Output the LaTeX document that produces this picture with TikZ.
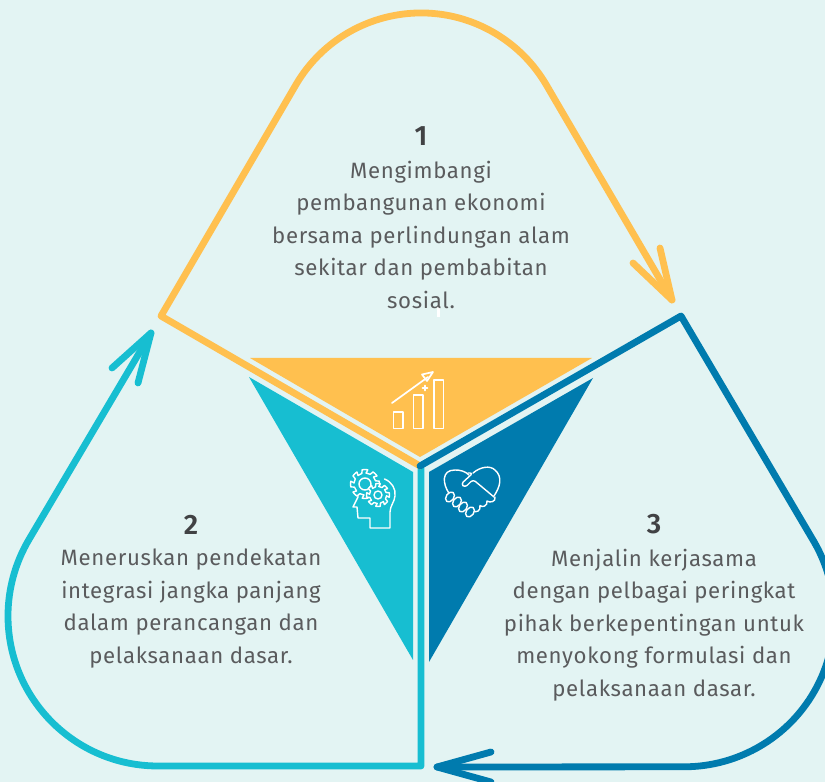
\documentclass[tikz,border=0pt]{standalone}
\usepackage{fontspec}
\setmainfont{Fira Sans}[LetterSpace=3]
\newfontfamily\numfont{Fira Sans SemiBold}
\definecolor{bgc}{HTML}{E3F4F3}
\definecolor{yel}{HTML}{FFC04F}
\definecolor{cya}{HTML}{17BED1}
\definecolor{blu}{HTML}{007BAE}
\definecolor{txt}{HTML}{5A5B5D}
\definecolor{numc}{HTML}{414244}
\tikzset{
 x=1pt,y=1pt,
 loop/.style={line width=6.8pt,line cap=round,line join=round},
 body/.style={inner sep=0pt,align=center,anchor=north,text=txt,font=\fontsize{22.2}{32.4}\selectfont},
 num/.style={inner sep=0pt,anchor=base,text=numc,font=\numfont\fontsize{28}{30}\selectfont},
 ico/.style={draw=white,line width=1.4pt,line join=round,line cap=round},
}
% cx cy outer inner teeth
\newcommand\gearicon[5]{%
 \draw[ico,fill=cya] ({#1+#3*cos(0)},{#2+#3*sin(0)})
  foreach \k in {1,...,#5}{
   -- ({#1+#3*cos((\k-1)*360/#5+90/#5)},{#2+#3*sin((\k-1)*360/#5+90/#5)})
   -- ({#1+#4*cos((\k-1)*360/#5+135/#5)},{#2+#4*sin((\k-1)*360/#5+135/#5)})
   -- ({#1+#4*cos((\k-1)*360/#5+315/#5)},{#2+#4*sin((\k-1)*360/#5+315/#5)})
   -- ({#1+#3*cos((\k-1)*360/#5+270/#5)},{#2+#3*sin((\k-1)*360/#5+270/#5)})
   -- ({#1+#3*cos(\k*360/#5)},{#2+#3*sin(\k*360/#5)})
  } -- cycle;}
\begin{document}
\begin{tikzpicture}
\useasboundingbox (0,0) rectangle (825,782);
\fill[bgc] (0,0) rectangle (825,782);
\clip (0,0) rectangle (825,782);
% triangles
\fill[yel] (250,424) -- (592,424) -- (420,325) -- cycle;
\fill[cya] (249,405) -- (413,310) -- (413,122) -- cycle;
\fill[blu] (593,404) -- (429,310) -- (429,120) -- cycle;
% loops
\coordinate (hub) at (420,316);
\coordinate (ycorner) at (161,466);
\coordinate (ytip) at (672,482);
\coordinate (ybarbA) at (633,519);
\coordinate (ybarbB) at (660,534);
\coordinate (bcorner) at (681,466);
\coordinate (btip) at (437,15);
\coordinate (bbarbA) at (491,30);
\coordinate (bbarbB) at (491,0);
\coordinate (ccorner) at (421,16);
\coordinate (ctip) at (151,449);
\coordinate (cbarbA) at (112,414);
\coordinate (cbarbB) at (138,399);
\draw[loop,cya] (421,314) -- (ccorner) -- (158,16) arc[start angle=270,end angle=149.2,radius=150pt] -- (ctip);
\draw[loop,cya] (cbarbA) -- (ctip) -- (cbarbB);
\draw[loop,yel] (hub) -- (ycorner) -- (296,697.4) arc[start angle=149.6,end angle=30.4,radius=145pt] -- (ytip);
\draw[loop,yel] (ybarbA) -- (ytip) -- (ybarbB);
\draw[loop,blu] (hub) -- (bcorner) -- (813,242) arc[start angle=30.8,end angle=-90,radius=150pt] -- (btip);
\draw[loop,blu] (bbarbA) -- (btip) -- (bbarbB);
% stray mark
\fill[white] (437,465) rectangle (439.5,477);
% chart icon
\draw[ico,line width=1.7pt] (393.5,353.5) rectangle (403,370);
\draw[ico,line width=1.7pt] (413.5,353.5) rectangle (423,387);
\draw[ico,line width=1.7pt] (434,353.5) rectangle (443.5,402);
\draw[ico,line width=1.7pt] (392,379) -- (428,405);
\draw[ico,line width=1.7pt] (433,410) -- (422,407.5) -- (427,401) -- cycle;
\draw[ico,line width=1.7pt] (422.5,394) -- (427.5,394) (425,391.5) -- (425,396.5);
% head icon
\draw[ico] (384.5,303) .. controls (392,300) and (396,293) .. (395,286) .. controls (394.5,280) and (390,276) .. (390,270) -- (390,254) -- (370,254) -- (370,264) -- (358,264) -- (357,275) -- (353,275) -- (358,285) -- (358,290);
\gearicon{365}{298}{14.5}{11}{8}
\draw[ico] (365,298) circle[radius=6pt];
\gearicon{378}{287}{11.5}{8.5}{8}
\draw[ico] (378,287) circle[radius=4pt];
% handshake icon
\draw[ico] (448.5,289.5) .. controls (443,298) and (441,312) .. (455,312) .. controls (460,312) and (465,311) .. (469,307);
\draw[ico,rounded corners=3pt] (468,309) -- (473,309) -- (461,298) -- (465,294.5) -- (473,302.5) -- (494,285);
\draw[ico] (473,309) .. controls (480,315) and (490,317) .. (495,312) .. controls (503,305) and (500,295) .. (494,286);
\draw[ico] (495,285) .. controls (496,280) and (490,279) .. (487,281) .. controls (488,276) and (482,274) .. (480,276.5) .. controls (481,271) and (476,269) .. (473,271);
\foreach \cx/\cy in {450/285,457/280,463/275,470/270}
 \draw[ico,fill=blu,rotate around={-35:(\cx,\cy)}] (\cx,\cy) ellipse[x radius=5.5pt,y radius=3.8pt,rotate=90];
% text
\node[num] (n1) at (421,636) {1};
\node[body] (t1) at (421,621) {Mengimbangi\\pembangunan ekonomi\\bersama perlindungan alam\\sekitar dan pembabitan\\sosial.};
\node[num] (n2) at (191,247) {2};
\node[body] (t2) at (191,233) {Meneruskan pendekatan\\integrasi jangka panjang\\dalam perancangan dan\\pelaksanaan dasar.};
\node[num] (n3) at (654,248) {3};
\node[body] (t3) at (654,233) {Menjalin kerjasama\\dengan pelbagai peringkat\\pihak berkepentingan untuk\\menyokong formulasi dan\\pelaksanaan dasar.};
\end{tikzpicture}
\end{document}
